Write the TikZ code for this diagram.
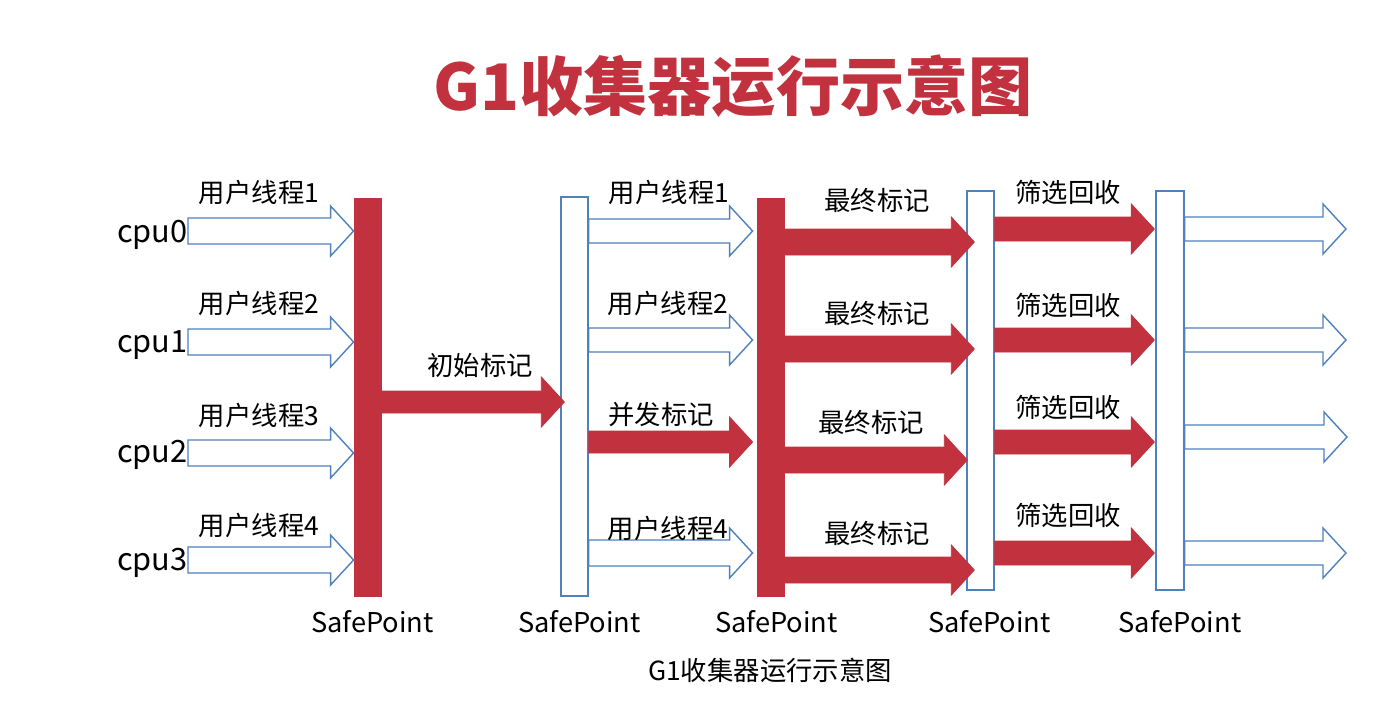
\documentclass[tikz,border=0pt]{standalone}
\usepackage{fontspec}
\setmainfont{Noto Sans CJK SC}
\usetikzlibrary{calc}

\definecolor{gcred}{RGB}{193,49,62}
\definecolor{gcblue}{RGB}{79,129,189}

% block arrow: #1 style, #2 from, #3 to, #4 y, #5 tip shift, #6 half shaft
\newcommand{\blockarrow}[6]{%
  \coordinate (ba-s) at (#2 |- 0,#4);
  \coordinate (ba-t) at ($(#3 |- 0,#4)+(#5,0)$);
  \draw [#1] ($(ba-s)+(0,-#6)$) -- ($(ba-t)+(-23,-#6)$) -- ($(ba-t)+(-23,-25)$) -- (ba-t)
    -- ($(ba-t)+(-23,25)$) -- ($(ba-t)+(-23,#6)$) -- ($(ba-s)+(0,#6)$) -- cycle;
}

\begin{document}
\begin{tikzpicture}[x=0.02cm, y=-0.02cm,
  bluearrow/.style={draw=gcblue, fill=white, line width=0.8pt},
  redarrow/.style={draw=gcred, fill=gcred, line width=0.5pt},
  redbar/.style={draw=gcred, fill=gcred, line width=0.5pt, minimum width=0.54cm, inner sep=0},
  bluebar/.style={draw=gcblue, fill=white, line width=0.8pt, minimum width=0.54cm, inner sep=0},
  lbl/.style={font=\fontsize{15}{18}\selectfont, inner sep=0},
  cpulbl/.style={font=\fontsize{17.5}{21}\selectfont, inner sep=0, anchor=east},
  sptext/.style={font=\fontsize{15.5}{18}\selectfont, inner sep=0}]
\useasboundingbox (0,0) rectangle (1390,727);
%
\node [font=\fontsize{36.5}{44}\selectfont\bfseries, text=gcred] (title) at (733,86) {G1收集器运行示意图};
\node [lbl] (caption) at (770,670) {G1收集器运行示意图};
%
\node [cpulbl] (cpu0) at (188,235) {cpu0};
\node [cpulbl] (cpu1) at (188,345) {cpu1};
\node [cpulbl] (cpu2) at (188,455) {cpu2};
\node [cpulbl] (cpu3) at (188,563) {cpu3};
%
\node [redbar,  minimum height=7.96cm] (sp1) at (367.5,397) {};
\node [bluebar, minimum height=7.98cm] (sp2) at (574.5,396.5) {};
\node [redbar,  minimum height=7.96cm] (sp3) at (770.5,397) {};
\node [bluebar, minimum height=7.98cm] (sp4) at (980.5,390.5) {};
\node [bluebar, minimum height=7.98cm, minimum width=0.56cm] (sp5) at (1170,390.5) {};
%
\foreach \n/\dx in {1/5,2/5,3/6,4/9,5/10}
  \node [sptext] at ($(sp\n.south |- 0,622)+(\dx,0)$) {SafePoint};
%%%%%%%%%%%%%%%%%%%%%%%%%%%%%%%
\blockarrow{bluearrow}{cpu0.east}{sp1.west}{231}{0}{13}
\blockarrow{bluearrow}{cpu1.east}{sp1.west}{342}{0}{13}
\blockarrow{bluearrow}{cpu2.east}{sp1.west}{453}{0}{13}
\blockarrow{bluearrow}{cpu3.east}{sp1.west}{560}{0}{13}
\node [lbl] at (259,192) {用户线程1};
\node [lbl] at (259,303) {用户线程2};
\node [lbl] at (259,415) {用户线程3};
\node [lbl] at (259,525) {用户线程4};
%
\blockarrow{redarrow}{sp1.east}{sp2.west}{402}{4}{11}
\node [lbl] at (480,365) {初始标记};
%
\blockarrow{bluearrow}{sp2.east}{sp3.west}{231}{-4}{12}
\blockarrow{bluearrow}{sp2.east}{sp3.west}{340}{-4}{12}
\blockarrow{redarrow}{sp2.east}{sp3.west}{442}{-4}{11}
\blockarrow{bluearrow}{sp2.east}{sp3.west}{553}{-4}{13}
\node [lbl] at (669,192) {用户线程1};
\node [lbl] at (668,303) {用户线程2};
\node [lbl] at (661,415) {并发标记};
\node [lbl] at (668,528) {用户线程4};
%
\blockarrow{redarrow}{sp3.east}{sp4.west}{242}{8}{13}
\blockarrow{redarrow}{sp3.east}{sp4.west}{349}{8}{13}
\blockarrow{redarrow}{sp3.east}{sp4.west}{460}{1}{13}
\blockarrow{redarrow}{sp3.east}{sp4.west}{570}{8}{13}
\node [lbl] at (877,200) {最终标记};
\node [lbl] at (877,313) {最终标记};
\node [lbl] at (871,422) {最终标记};
\node [lbl] at (877,533) {最终标记};
%
\blockarrow{redarrow}{sp4.east}{sp5.west}{229}{-1}{12}
\blockarrow{redarrow}{sp4.east}{sp5.west}{340}{-1}{12}
\blockarrow{redarrow}{sp4.east}{sp5.west}{442}{-1}{12}
\blockarrow{redarrow}{sp4.east}{sp5.west}{553}{-1}{12}
\node [lbl] at (1068,192) {筛选回收};
\node [lbl] at (1068,305) {筛选回收};
\node [lbl] at (1068,407) {筛选回收};
\node [lbl] at (1068,515) {筛选回收};
%
\coordinate (out0) at (1346,229);
\coordinate (out1) at (1346,340);
\coordinate (out2) at (1347,437);
\coordinate (out3) at (1346,553);
\foreach \n/\y in {0/229,1/340,2/437,3/553}
  {\blockarrow{bluearrow}{sp5.east}{out\n}{\y}{0}{12}}
%%%%%%%%%%%%%%%%%%%%%%%%%%%%%%%
\end{tikzpicture}
\end{document}
